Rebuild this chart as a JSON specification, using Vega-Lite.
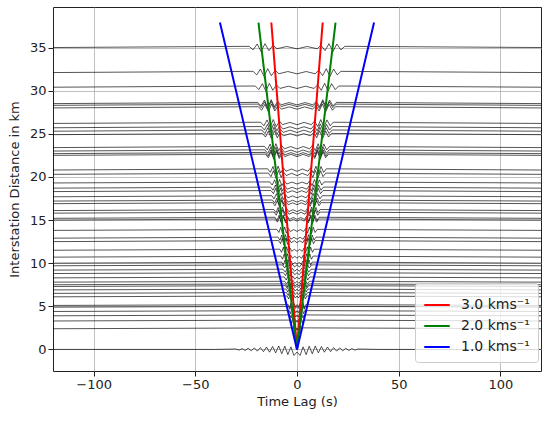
{
"$schema": "https://vega.github.io/schema/vega-lite/v6.json",
"width": 488, "height": 364,
"autosize": {"type": "none"},
"padding": {"left": 53, "top": 7, "right": 9, "bottom": 51},
"config": {
"font": "DejaVu Sans",
"view": {"stroke": "#222", "strokeWidth": 1},
"axis": {"labelFont": "DejaVu Sans", "titleFont": "DejaVu Sans", "labelFontSize": 13, "titleFontSize": 13, "titleFontWeight": "normal", "labelColor": "#222", "titleColor": "#222", "tickColor": "#222", "domain": false, "gridColor": "#b0b0b0", "gridWidth": 0.8, "tickSize": 5, "labelPadding": 2}
},
"datasets": {
"tr": [
{"k":35,"t":-120,"y":35},{"k":35,"t":-23.5,"y":35.14},{"k":35,"t":-21.6,"y":34.73},{"k":35,"t":-19.6,"y":35.41},{"k":35,"t":-17.7,"y":34.55},{"k":35,"t":-15.7,"y":35.45},{"k":35,"t":-13.8,"y":34.64},{"k":35,"t":-11.8,"y":35.27},{"k":35,"t":-9.9,"y":34.86},{"k":35,"t":-5,"y":35.12},{"k":35,"t":0,"y":34.85},{"k":35,"t":5,"y":35.12},{"k":35,"t":9.9,"y":34.86},{"k":35,"t":11.8,"y":35.27},{"k":35,"t":13.8,"y":34.64},{"k":35,"t":15.7,"y":35.45},{"k":35,"t":17.7,"y":34.55},{"k":35,"t":19.6,"y":35.41},{"k":35,"t":21.6,"y":34.73},{"k":35,"t":23.5,"y":35.14},{"k":35,"t":120,"y":35},
{"k":32.1,"t":-120,"y":32.1},{"k":32.1,"t":-21.6,"y":32.24},{"k":32.1,"t":-19.8,"y":31.83},{"k":32.1,"t":-18,"y":32.51},{"k":32.1,"t":-16.2,"y":31.65},{"k":32.1,"t":-14.4,"y":32.55},{"k":32.1,"t":-12.6,"y":31.74},{"k":32.1,"t":-10.7,"y":32.37},{"k":32.1,"t":-8.9,"y":31.96},{"k":32.1,"t":-4.5,"y":32.22},{"k":32.1,"t":0,"y":31.95},{"k":32.1,"t":4.5,"y":32.22},{"k":32.1,"t":8.9,"y":31.96},{"k":32.1,"t":10.7,"y":32.37},{"k":32.1,"t":12.6,"y":31.74},{"k":32.1,"t":14.4,"y":32.55},{"k":32.1,"t":16.2,"y":31.65},{"k":32.1,"t":18,"y":32.51},{"k":32.1,"t":19.8,"y":31.83},{"k":32.1,"t":21.6,"y":32.24},{"k":32.1,"t":120,"y":32.1},
{"k":30.4,"t":-120,"y":30.4},{"k":30.4,"t":-20.5,"y":30.54},{"k":30.4,"t":-18.8,"y":30.13},{"k":30.4,"t":-17,"y":30.81},{"k":30.4,"t":-15.3,"y":29.95},{"k":30.4,"t":-13.6,"y":30.85},{"k":30.4,"t":-11.9,"y":30.04},{"k":30.4,"t":-10.1,"y":30.67},{"k":30.4,"t":-8.4,"y":30.26},{"k":30.4,"t":-4.2,"y":30.52},{"k":30.4,"t":0,"y":30.25},{"k":30.4,"t":4.2,"y":30.52},{"k":30.4,"t":8.4,"y":30.26},{"k":30.4,"t":10.1,"y":30.67},{"k":30.4,"t":11.9,"y":30.04},{"k":30.4,"t":13.6,"y":30.85},{"k":30.4,"t":15.3,"y":29.95},{"k":30.4,"t":17,"y":30.81},{"k":30.4,"t":18.8,"y":30.13},{"k":30.4,"t":20.5,"y":30.54},{"k":30.4,"t":120,"y":30.4},
{"k":28.5,"t":-120,"y":28.5},{"k":28.5,"t":-19.3,"y":28.64},{"k":28.5,"t":-17.7,"y":28.23},{"k":28.5,"t":-16,"y":28.91},{"k":28.5,"t":-14.4,"y":28.05},{"k":28.5,"t":-12.7,"y":28.95},{"k":28.5,"t":-11.1,"y":28.14},{"k":28.5,"t":-9.5,"y":28.77},{"k":28.5,"t":-7.8,"y":28.36},{"k":28.5,"t":-3.9,"y":28.62},{"k":28.5,"t":0,"y":28.35},{"k":28.5,"t":3.9,"y":28.62},{"k":28.5,"t":7.8,"y":28.36},{"k":28.5,"t":9.5,"y":28.77},{"k":28.5,"t":11.1,"y":28.14},{"k":28.5,"t":12.7,"y":28.95},{"k":28.5,"t":14.4,"y":28.05},{"k":28.5,"t":16,"y":28.91},{"k":28.5,"t":17.7,"y":28.23},{"k":28.5,"t":19.3,"y":28.64},{"k":28.5,"t":120,"y":28.5},
{"k":28.3,"t":-120,"y":28.3},{"k":28.3,"t":-19.2,"y":28.44},{"k":28.3,"t":-17.6,"y":28.03},{"k":28.3,"t":-15.9,"y":28.71},{"k":28.3,"t":-14.3,"y":27.85},{"k":28.3,"t":-12.7,"y":28.75},{"k":28.3,"t":-11,"y":27.94},{"k":28.3,"t":-9.4,"y":28.57},{"k":28.3,"t":-7.8,"y":28.16},{"k":28.3,"t":-3.9,"y":28.42},{"k":28.3,"t":0,"y":28.15},{"k":28.3,"t":3.9,"y":28.42},{"k":28.3,"t":7.8,"y":28.16},{"k":28.3,"t":9.4,"y":28.57},{"k":28.3,"t":11,"y":27.94},{"k":28.3,"t":12.7,"y":28.75},{"k":28.3,"t":14.3,"y":27.85},{"k":28.3,"t":15.9,"y":28.71},{"k":28.3,"t":17.6,"y":28.03},{"k":28.3,"t":19.2,"y":28.44},{"k":28.3,"t":120,"y":28.3},
{"k":28,"t":-120,"y":28},{"k":28,"t":-19,"y":28.14},{"k":28,"t":-17.4,"y":27.73},{"k":28,"t":-15.8,"y":28.41},{"k":28,"t":-14.1,"y":27.55},{"k":28,"t":-12.5,"y":28.45},{"k":28,"t":-10.9,"y":27.64},{"k":28,"t":-9.3,"y":28.27},{"k":28,"t":-7.7,"y":27.86},{"k":28,"t":-3.8,"y":28.12},{"k":28,"t":0,"y":27.85},{"k":28,"t":3.8,"y":28.12},{"k":28,"t":7.7,"y":27.86},{"k":28,"t":9.3,"y":28.27},{"k":28,"t":10.9,"y":27.64},{"k":28,"t":12.5,"y":28.45},{"k":28,"t":14.1,"y":27.55},{"k":28,"t":15.8,"y":28.41},{"k":28,"t":17.4,"y":27.73},{"k":28,"t":19,"y":28.14},{"k":28,"t":120,"y":28},
{"k":26.2,"t":-120,"y":26.2},{"k":26.2,"t":-17.8,"y":26.34},{"k":26.2,"t":-16.3,"y":25.93},{"k":26.2,"t":-14.7,"y":26.61},{"k":26.2,"t":-13.2,"y":25.75},{"k":26.2,"t":-11.7,"y":26.65},{"k":26.2,"t":-10.2,"y":25.84},{"k":26.2,"t":-8.6,"y":26.47},{"k":26.2,"t":-7.1,"y":26.06},{"k":26.2,"t":-3.5,"y":26.32},{"k":26.2,"t":0,"y":26.05},{"k":26.2,"t":3.5,"y":26.32},{"k":26.2,"t":7.1,"y":26.06},{"k":26.2,"t":8.6,"y":26.47},{"k":26.2,"t":10.2,"y":25.84},{"k":26.2,"t":11.7,"y":26.65},{"k":26.2,"t":13.2,"y":25.75},{"k":26.2,"t":14.7,"y":26.61},{"k":26.2,"t":16.3,"y":25.93},{"k":26.2,"t":17.8,"y":26.34},{"k":26.2,"t":120,"y":26.2},
{"k":25.7,"t":-120,"y":25.7},{"k":25.7,"t":-17.5,"y":25.84},{"k":25.7,"t":-16,"y":25.43},{"k":25.7,"t":-14.5,"y":26.11},{"k":25.7,"t":-13,"y":25.25},{"k":25.7,"t":-11.5,"y":26.15},{"k":25.7,"t":-9.9,"y":25.34},{"k":25.7,"t":-8.4,"y":25.97},{"k":25.7,"t":-6.9,"y":25.56},{"k":25.7,"t":-3.4,"y":25.82},{"k":25.7,"t":0,"y":25.55},{"k":25.7,"t":3.4,"y":25.82},{"k":25.7,"t":6.9,"y":25.56},{"k":25.7,"t":8.4,"y":25.97},{"k":25.7,"t":9.9,"y":25.34},{"k":25.7,"t":11.5,"y":26.15},{"k":25.7,"t":13,"y":25.25},{"k":25.7,"t":14.5,"y":26.11},{"k":25.7,"t":16,"y":25.43},{"k":25.7,"t":17.5,"y":25.84},{"k":25.7,"t":120,"y":25.7},
{"k":25.3,"t":-120,"y":25.3},{"k":25.3,"t":-17.3,"y":25.44},{"k":25.3,"t":-15.8,"y":25.03},{"k":25.3,"t":-14.3,"y":25.71},{"k":25.3,"t":-12.8,"y":24.85},{"k":25.3,"t":-11.3,"y":25.75},{"k":25.3,"t":-9.8,"y":24.94},{"k":25.3,"t":-8.3,"y":25.57},{"k":25.3,"t":-6.8,"y":25.16},{"k":25.3,"t":-3.4,"y":25.42},{"k":25.3,"t":0,"y":25.15},{"k":25.3,"t":3.4,"y":25.42},{"k":25.3,"t":6.8,"y":25.16},{"k":25.3,"t":8.3,"y":25.57},{"k":25.3,"t":9.8,"y":24.94},{"k":25.3,"t":11.3,"y":25.75},{"k":25.3,"t":12.8,"y":24.85},{"k":25.3,"t":14.3,"y":25.71},{"k":25.3,"t":15.8,"y":25.03},{"k":25.3,"t":17.3,"y":25.44},{"k":25.3,"t":120,"y":25.3},
{"k":24.9,"t":-120,"y":24.9},{"k":24.9,"t":-17,"y":25.04},{"k":24.9,"t":-15.5,"y":24.63},{"k":24.9,"t":-14.1,"y":25.31},{"k":24.9,"t":-12.6,"y":24.45},{"k":24.9,"t":-11.1,"y":25.35},{"k":24.9,"t":-9.7,"y":24.54},{"k":24.9,"t":-8.2,"y":25.17},{"k":24.9,"t":-6.7,"y":24.76},{"k":24.9,"t":-3.3,"y":25.02},{"k":24.9,"t":0,"y":24.75},{"k":24.9,"t":3.3,"y":25.02},{"k":24.9,"t":6.7,"y":24.76},{"k":24.9,"t":8.2,"y":25.17},{"k":24.9,"t":9.7,"y":24.54},{"k":24.9,"t":11.1,"y":25.35},{"k":24.9,"t":12.6,"y":24.45},{"k":24.9,"t":14.1,"y":25.31},{"k":24.9,"t":15.5,"y":24.63},{"k":24.9,"t":17,"y":25.04},{"k":24.9,"t":120,"y":24.9},
{"k":23.4,"t":-120,"y":23.4},{"k":23.4,"t":-16,"y":23.54},{"k":23.4,"t":-14.6,"y":23.13},{"k":23.4,"t":-13.2,"y":23.81},{"k":23.4,"t":-11.8,"y":22.95},{"k":23.4,"t":-10.4,"y":23.85},{"k":23.4,"t":-9,"y":23.04},{"k":23.4,"t":-7.6,"y":23.67},{"k":23.4,"t":-6.2,"y":23.26},{"k":23.4,"t":-3.1,"y":23.52},{"k":23.4,"t":0,"y":23.25},{"k":23.4,"t":3.1,"y":23.52},{"k":23.4,"t":6.2,"y":23.26},{"k":23.4,"t":7.6,"y":23.67},{"k":23.4,"t":9,"y":23.04},{"k":23.4,"t":10.4,"y":23.85},{"k":23.4,"t":11.8,"y":22.95},{"k":23.4,"t":13.2,"y":23.81},{"k":23.4,"t":14.6,"y":23.13},{"k":23.4,"t":16,"y":23.54},{"k":23.4,"t":120,"y":23.4},
{"k":23,"t":-120,"y":23},{"k":23,"t":-15.8,"y":23.14},{"k":23,"t":-14.4,"y":22.73},{"k":23,"t":-13,"y":23.41},{"k":23,"t":-11.7,"y":22.55},{"k":23,"t":-10.3,"y":23.45},{"k":23,"t":-8.9,"y":22.64},{"k":23,"t":-7.5,"y":23.27},{"k":23,"t":-6.1,"y":22.86},{"k":23,"t":-3,"y":23.12},{"k":23,"t":0,"y":22.85},{"k":23,"t":3,"y":23.12},{"k":23,"t":6.1,"y":22.86},{"k":23,"t":7.5,"y":23.27},{"k":23,"t":8.9,"y":22.64},{"k":23,"t":10.3,"y":23.45},{"k":23,"t":11.7,"y":22.55},{"k":23,"t":13,"y":23.41},{"k":23,"t":14.4,"y":22.73},{"k":23,"t":15.8,"y":23.14},{"k":23,"t":120,"y":23},
{"k":22.7,"t":-120,"y":22.7},{"k":22.7,"t":-15.6,"y":22.84},{"k":22.7,"t":-14.2,"y":22.43},{"k":22.7,"t":-12.9,"y":23.11},{"k":22.7,"t":-11.5,"y":22.25},{"k":22.7,"t":-10.1,"y":23.15},{"k":22.7,"t":-8.8,"y":22.34},{"k":22.7,"t":-7.4,"y":22.97},{"k":22.7,"t":-6,"y":22.56},{"k":22.7,"t":-3,"y":22.82},{"k":22.7,"t":0,"y":22.55},{"k":22.7,"t":3,"y":22.82},{"k":22.7,"t":6,"y":22.56},{"k":22.7,"t":7.4,"y":22.97},{"k":22.7,"t":8.8,"y":22.34},{"k":22.7,"t":10.1,"y":23.15},{"k":22.7,"t":11.5,"y":22.25},{"k":22.7,"t":12.9,"y":23.11},{"k":22.7,"t":14.2,"y":22.43},{"k":22.7,"t":15.6,"y":22.84},{"k":22.7,"t":120,"y":22.7},
{"k":22.5,"t":-120,"y":22.5},{"k":22.5,"t":-15.5,"y":22.64},{"k":22.5,"t":-14.1,"y":22.23},{"k":22.5,"t":-12.8,"y":22.91},{"k":22.5,"t":-11.4,"y":22.05},{"k":22.5,"t":-10.1,"y":22.95},{"k":22.5,"t":-8.7,"y":22.14},{"k":22.5,"t":-7.3,"y":22.77},{"k":22.5,"t":-6,"y":22.36},{"k":22.5,"t":-3,"y":22.62},{"k":22.5,"t":0,"y":22.35},{"k":22.5,"t":3,"y":22.62},{"k":22.5,"t":6,"y":22.36},{"k":22.5,"t":7.3,"y":22.77},{"k":22.5,"t":8.7,"y":22.14},{"k":22.5,"t":10.1,"y":22.95},{"k":22.5,"t":11.4,"y":22.05},{"k":22.5,"t":12.8,"y":22.91},{"k":22.5,"t":14.1,"y":22.23},{"k":22.5,"t":15.5,"y":22.64},{"k":22.5,"t":120,"y":22.5},
{"k":20.8,"t":-120,"y":20.8},{"k":20.8,"t":-14.4,"y":20.94},{"k":20.8,"t":-13.1,"y":20.53},{"k":20.8,"t":-11.8,"y":21.21},{"k":20.8,"t":-10.6,"y":20.35},{"k":20.8,"t":-9.3,"y":21.25},{"k":20.8,"t":-8,"y":20.44},{"k":20.8,"t":-6.7,"y":21.07},{"k":20.8,"t":-5.4,"y":20.66},{"k":20.8,"t":-2.7,"y":20.92},{"k":20.8,"t":0,"y":20.65},{"k":20.8,"t":2.7,"y":20.92},{"k":20.8,"t":5.4,"y":20.66},{"k":20.8,"t":6.7,"y":21.07},{"k":20.8,"t":8,"y":20.44},{"k":20.8,"t":9.3,"y":21.25},{"k":20.8,"t":10.6,"y":20.35},{"k":20.8,"t":11.8,"y":21.21},{"k":20.8,"t":13.1,"y":20.53},{"k":20.8,"t":14.4,"y":20.94},{"k":20.8,"t":120,"y":20.8},
{"k":20.3,"t":-120,"y":20.3},{"k":20.3,"t":-14.1,"y":20.44},{"k":20.3,"t":-12.8,"y":20.03},{"k":20.3,"t":-11.6,"y":20.71},{"k":20.3,"t":-10.3,"y":19.85},{"k":20.3,"t":-9.1,"y":20.75},{"k":20.3,"t":-7.8,"y":19.94},{"k":20.3,"t":-6.6,"y":20.57},{"k":20.3,"t":-5.3,"y":20.16},{"k":20.3,"t":-2.6,"y":20.42},{"k":20.3,"t":0,"y":20.15},{"k":20.3,"t":2.6,"y":20.42},{"k":20.3,"t":5.3,"y":20.16},{"k":20.3,"t":6.6,"y":20.57},{"k":20.3,"t":7.8,"y":19.94},{"k":20.3,"t":9.1,"y":20.75},{"k":20.3,"t":10.3,"y":19.85},{"k":20.3,"t":11.6,"y":20.71},{"k":20.3,"t":12.8,"y":20.03},{"k":20.3,"t":14.1,"y":20.44},{"k":20.3,"t":120,"y":20.3},
{"k":19.3,"t":-120,"y":19.3},{"k":19.3,"t":-13.4,"y":19.42},{"k":19.3,"t":-12.2,"y":19.06},{"k":19.3,"t":-11,"y":19.66},{"k":19.3,"t":-9.8,"y":18.9},{"k":19.3,"t":-8.6,"y":19.7},{"k":19.3,"t":-7.4,"y":18.98},{"k":19.3,"t":-6.2,"y":19.54},{"k":19.3,"t":-5,"y":19.18},{"k":19.3,"t":-2.5,"y":19.4},{"k":19.3,"t":0,"y":19.18},{"k":19.3,"t":2.5,"y":19.4},{"k":19.3,"t":5,"y":19.18},{"k":19.3,"t":6.2,"y":19.54},{"k":19.3,"t":7.4,"y":18.98},{"k":19.3,"t":8.6,"y":19.7},{"k":19.3,"t":9.8,"y":18.9},{"k":19.3,"t":11,"y":19.66},{"k":19.3,"t":12.2,"y":19.06},{"k":19.3,"t":13.4,"y":19.42},{"k":19.3,"t":120,"y":19.3},
{"k":18.7,"t":-120,"y":18.7},{"k":18.7,"t":-13,"y":18.82},{"k":18.7,"t":-11.8,"y":18.46},{"k":18.7,"t":-10.6,"y":19.06},{"k":18.7,"t":-9.5,"y":18.3},{"k":18.7,"t":-8.3,"y":19.1},{"k":18.7,"t":-7.1,"y":18.38},{"k":18.7,"t":-5.9,"y":18.94},{"k":18.7,"t":-4.8,"y":18.58},{"k":18.7,"t":-2.4,"y":18.8},{"k":18.7,"t":0,"y":18.58},{"k":18.7,"t":2.4,"y":18.8},{"k":18.7,"t":4.8,"y":18.58},{"k":18.7,"t":5.9,"y":18.94},{"k":18.7,"t":7.1,"y":18.38},{"k":18.7,"t":8.3,"y":19.1},{"k":18.7,"t":9.5,"y":18.3},{"k":18.7,"t":10.6,"y":19.06},{"k":18.7,"t":11.8,"y":18.46},{"k":18.7,"t":13,"y":18.82},{"k":18.7,"t":120,"y":18.7},
{"k":18.3,"t":-120,"y":18.3},{"k":18.3,"t":-12.8,"y":18.42},{"k":18.3,"t":-11.6,"y":18.06},{"k":18.3,"t":-10.5,"y":18.66},{"k":18.3,"t":-9.3,"y":17.9},{"k":18.3,"t":-8.2,"y":18.7},{"k":18.3,"t":-7,"y":17.98},{"k":18.3,"t":-5.8,"y":18.54},{"k":18.3,"t":-4.7,"y":18.18},{"k":18.3,"t":-2.3,"y":18.4},{"k":18.3,"t":0,"y":18.18},{"k":18.3,"t":2.3,"y":18.4},{"k":18.3,"t":4.7,"y":18.18},{"k":18.3,"t":5.8,"y":18.54},{"k":18.3,"t":7,"y":17.98},{"k":18.3,"t":8.2,"y":18.7},{"k":18.3,"t":9.3,"y":17.9},{"k":18.3,"t":10.5,"y":18.66},{"k":18.3,"t":11.6,"y":18.06},{"k":18.3,"t":12.8,"y":18.42},{"k":18.3,"t":120,"y":18.3},
{"k":17.7,"t":-120,"y":17.7},{"k":17.7,"t":-12.4,"y":17.82},{"k":17.7,"t":-11.3,"y":17.46},{"k":17.7,"t":-10.1,"y":18.06},{"k":17.7,"t":-9,"y":17.3},{"k":17.7,"t":-7.9,"y":18.1},{"k":17.7,"t":-6.7,"y":17.38},{"k":17.7,"t":-5.6,"y":17.94},{"k":17.7,"t":-4.5,"y":17.58},{"k":17.7,"t":-2.2,"y":17.8},{"k":17.7,"t":0,"y":17.58},{"k":17.7,"t":2.2,"y":17.8},{"k":17.7,"t":4.5,"y":17.58},{"k":17.7,"t":5.6,"y":17.94},{"k":17.7,"t":6.7,"y":17.38},{"k":17.7,"t":7.9,"y":18.1},{"k":17.7,"t":9,"y":17.3},{"k":17.7,"t":10.1,"y":18.06},{"k":17.7,"t":11.3,"y":17.46},{"k":17.7,"t":12.4,"y":17.82},{"k":17.7,"t":120,"y":17.7},
{"k":17.2,"t":-120,"y":17.2},{"k":17.2,"t":-12.1,"y":17.32},{"k":17.2,"t":-11,"y":16.96},{"k":17.2,"t":-9.9,"y":17.56},{"k":17.2,"t":-8.8,"y":16.8},{"k":17.2,"t":-7.7,"y":17.6},{"k":17.2,"t":-6.6,"y":16.88},{"k":17.2,"t":-5.5,"y":17.44},{"k":17.2,"t":-4.3,"y":17.08},{"k":17.2,"t":-2.2,"y":17.3},{"k":17.2,"t":0,"y":17.08},{"k":17.2,"t":2.2,"y":17.3},{"k":17.2,"t":4.3,"y":17.08},{"k":17.2,"t":5.5,"y":17.44},{"k":17.2,"t":6.6,"y":16.88},{"k":17.2,"t":7.7,"y":17.6},{"k":17.2,"t":8.8,"y":16.8},{"k":17.2,"t":9.9,"y":17.56},{"k":17.2,"t":11,"y":16.96},{"k":17.2,"t":12.1,"y":17.32},{"k":17.2,"t":120,"y":17.2},
{"k":16.9,"t":-120,"y":16.9},{"k":16.9,"t":-11.9,"y":17.02},{"k":16.9,"t":-10.8,"y":16.66},{"k":16.9,"t":-9.7,"y":17.26},{"k":16.9,"t":-8.6,"y":16.5},{"k":16.9,"t":-7.5,"y":17.3},{"k":16.9,"t":-6.5,"y":16.58},{"k":16.9,"t":-5.4,"y":17.14},{"k":16.9,"t":-4.3,"y":16.78},{"k":16.9,"t":-2.1,"y":17},{"k":16.9,"t":0,"y":16.78},{"k":16.9,"t":2.1,"y":17},{"k":16.9,"t":4.3,"y":16.78},{"k":16.9,"t":5.4,"y":17.14},{"k":16.9,"t":6.5,"y":16.58},{"k":16.9,"t":7.5,"y":17.3},{"k":16.9,"t":8.6,"y":16.5},{"k":16.9,"t":9.7,"y":17.26},{"k":16.9,"t":10.8,"y":16.66},{"k":16.9,"t":11.9,"y":17.02},{"k":16.9,"t":120,"y":16.9},
{"k":16.1,"t":-120,"y":16.1},{"k":16.1,"t":-11.4,"y":16.22},{"k":16.1,"t":-10.3,"y":15.86},{"k":16.1,"t":-9.3,"y":16.46},{"k":16.1,"t":-8.2,"y":15.7},{"k":16.1,"t":-7.2,"y":16.5},{"k":16.1,"t":-6.1,"y":15.78},{"k":16.1,"t":-5.1,"y":16.34},{"k":16.1,"t":-4,"y":15.98},{"k":16.1,"t":-2,"y":16.2},{"k":16.1,"t":0,"y":15.98},{"k":16.1,"t":2,"y":16.2},{"k":16.1,"t":4,"y":15.98},{"k":16.1,"t":5.1,"y":16.34},{"k":16.1,"t":6.1,"y":15.78},{"k":16.1,"t":7.2,"y":16.5},{"k":16.1,"t":8.2,"y":15.7},{"k":16.1,"t":9.3,"y":16.46},{"k":16.1,"t":10.3,"y":15.86},{"k":16.1,"t":11.4,"y":16.22},{"k":16.1,"t":120,"y":16.1},
{"k":15.8,"t":-120,"y":15.8},{"k":15.8,"t":-11.2,"y":15.92},{"k":15.8,"t":-10.2,"y":15.56},{"k":15.8,"t":-9.1,"y":16.16},{"k":15.8,"t":-8.1,"y":15.4},{"k":15.8,"t":-7,"y":16.2},{"k":15.8,"t":-6,"y":15.48},{"k":15.8,"t":-5,"y":16.04},{"k":15.8,"t":-3.9,"y":15.68},{"k":15.8,"t":-2,"y":15.9},{"k":15.8,"t":0,"y":15.68},{"k":15.8,"t":2,"y":15.9},{"k":15.8,"t":3.9,"y":15.68},{"k":15.8,"t":5,"y":16.04},{"k":15.8,"t":6,"y":15.48},{"k":15.8,"t":7,"y":16.2},{"k":15.8,"t":8.1,"y":15.4},{"k":15.8,"t":9.1,"y":16.16},{"k":15.8,"t":10.2,"y":15.56},{"k":15.8,"t":11.2,"y":15.92},{"k":15.8,"t":120,"y":15.8},
{"k":15.2,"t":-120,"y":15.2},{"k":15.2,"t":-10.8,"y":15.32},{"k":15.2,"t":-9.8,"y":14.96},{"k":15.2,"t":-8.8,"y":15.56},{"k":15.2,"t":-7.8,"y":14.8},{"k":15.2,"t":-6.8,"y":15.6},{"k":15.2,"t":-5.8,"y":14.88},{"k":15.2,"t":-4.7,"y":15.44},{"k":15.2,"t":-3.7,"y":15.08},{"k":15.2,"t":-1.8,"y":15.3},{"k":15.2,"t":0,"y":15.08},{"k":15.2,"t":1.8,"y":15.3},{"k":15.2,"t":3.7,"y":15.08},{"k":15.2,"t":4.7,"y":15.44},{"k":15.2,"t":5.8,"y":14.88},{"k":15.2,"t":6.8,"y":15.6},{"k":15.2,"t":7.8,"y":14.8},{"k":15.2,"t":8.8,"y":15.56},{"k":15.2,"t":9.8,"y":14.96},{"k":15.2,"t":10.8,"y":15.32},{"k":15.2,"t":120,"y":15.2},
{"k":15,"t":-120,"y":15},{"k":15,"t":-10.6,"y":15.12},{"k":15,"t":-9.6,"y":14.76},{"k":15,"t":-8.6,"y":15.36},{"k":15,"t":-7.6,"y":14.6},{"k":15,"t":-6.6,"y":15.4},{"k":15,"t":-5.6,"y":14.68},{"k":15,"t":-4.6,"y":15.24},{"k":15,"t":-3.6,"y":14.88},{"k":15,"t":-1.8,"y":15.1},{"k":15,"t":0,"y":14.88},{"k":15,"t":1.8,"y":15.1},{"k":15,"t":3.6,"y":14.88},{"k":15,"t":4.6,"y":15.24},{"k":15,"t":5.6,"y":14.68},{"k":15,"t":6.6,"y":15.4},{"k":15,"t":7.6,"y":14.6},{"k":15,"t":8.6,"y":15.36},{"k":15,"t":9.6,"y":14.76},{"k":15,"t":10.6,"y":15.12},{"k":15,"t":120,"y":15},
{"k":13.8,"t":-120,"y":13.8},{"k":13.8,"t":-9.9,"y":13.92},{"k":13.8,"t":-8.9,"y":13.56},{"k":13.8,"t":-8,"y":14.16},{"k":13.8,"t":-7.1,"y":13.4},{"k":13.8,"t":-6.1,"y":14.2},{"k":13.8,"t":-5.2,"y":13.48},{"k":13.8,"t":-4.3,"y":14.04},{"k":13.8,"t":-3.3,"y":13.68},{"k":13.8,"t":-1.6,"y":13.9},{"k":13.8,"t":0,"y":13.68},{"k":13.8,"t":1.6,"y":13.9},{"k":13.8,"t":3.3,"y":13.68},{"k":13.8,"t":4.3,"y":14.04},{"k":13.8,"t":5.2,"y":13.48},{"k":13.8,"t":6.1,"y":14.2},{"k":13.8,"t":7.1,"y":13.4},{"k":13.8,"t":8,"y":14.16},{"k":13.8,"t":8.9,"y":13.56},{"k":13.8,"t":9.9,"y":13.92},{"k":13.8,"t":120,"y":13.8},
{"k":12.9,"t":-120,"y":12.9},{"k":12.9,"t":-9.3,"y":13.02},{"k":12.9,"t":-8.4,"y":12.66},{"k":12.9,"t":-7.5,"y":13.26},{"k":12.9,"t":-6.6,"y":12.5},{"k":12.9,"t":-5.7,"y":13.3},{"k":12.9,"t":-4.8,"y":12.58},{"k":12.9,"t":-3.9,"y":13.14},{"k":12.9,"t":-3,"y":12.78},{"k":12.9,"t":-1.5,"y":13},{"k":12.9,"t":0,"y":12.78},{"k":12.9,"t":1.5,"y":13},{"k":12.9,"t":3,"y":12.78},{"k":12.9,"t":3.9,"y":13.14},{"k":12.9,"t":4.8,"y":12.58},{"k":12.9,"t":5.7,"y":13.3},{"k":12.9,"t":6.6,"y":12.5},{"k":12.9,"t":7.5,"y":13.26},{"k":12.9,"t":8.4,"y":12.66},{"k":12.9,"t":9.3,"y":13.02},{"k":12.9,"t":120,"y":12.9},
{"k":12.5,"t":-120,"y":12.5},{"k":12.5,"t":-9,"y":12.62},{"k":12.5,"t":-8.1,"y":12.26},{"k":12.5,"t":-7.3,"y":12.86},{"k":12.5,"t":-6.4,"y":12.1},{"k":12.5,"t":-5.5,"y":12.9},{"k":12.5,"t":-4.6,"y":12.18},{"k":12.5,"t":-3.7,"y":12.74},{"k":12.5,"t":-2.9,"y":12.38},{"k":12.5,"t":-1.4,"y":12.6},{"k":12.5,"t":0,"y":12.38},{"k":12.5,"t":1.4,"y":12.6},{"k":12.5,"t":2.9,"y":12.38},{"k":12.5,"t":3.7,"y":12.74},{"k":12.5,"t":4.6,"y":12.18},{"k":12.5,"t":5.5,"y":12.9},{"k":12.5,"t":6.4,"y":12.1},{"k":12.5,"t":7.3,"y":12.86},{"k":12.5,"t":8.1,"y":12.26},{"k":12.5,"t":9,"y":12.62},{"k":12.5,"t":120,"y":12.5},
{"k":11.5,"t":-120,"y":11.5},{"k":11.5,"t":-8.4,"y":11.62},{"k":11.5,"t":-7.6,"y":11.26},{"k":11.5,"t":-6.7,"y":11.86},{"k":11.5,"t":-5.9,"y":11.1},{"k":11.5,"t":-5.1,"y":11.9},{"k":11.5,"t":-4.2,"y":11.18},{"k":11.5,"t":-3.4,"y":11.74},{"k":11.5,"t":-2.6,"y":11.38},{"k":11.5,"t":-1.3,"y":11.6},{"k":11.5,"t":0,"y":11.38},{"k":11.5,"t":1.3,"y":11.6},{"k":11.5,"t":2.6,"y":11.38},{"k":11.5,"t":3.4,"y":11.74},{"k":11.5,"t":4.2,"y":11.18},{"k":11.5,"t":5.1,"y":11.9},{"k":11.5,"t":5.9,"y":11.1},{"k":11.5,"t":6.7,"y":11.86},{"k":11.5,"t":7.6,"y":11.26},{"k":11.5,"t":8.4,"y":11.62},{"k":11.5,"t":120,"y":11.5},
{"k":10.7,"t":-120,"y":10.7},{"k":10.7,"t":-7.9,"y":10.82},{"k":10.7,"t":-7.1,"y":10.46},{"k":10.7,"t":-6.3,"y":11.06},{"k":10.7,"t":-5.5,"y":10.3},{"k":10.7,"t":-4.7,"y":11.1},{"k":10.7,"t":-3.9,"y":10.38},{"k":10.7,"t":-3.1,"y":10.94},{"k":10.7,"t":-2.3,"y":10.58},{"k":10.7,"t":-1.1,"y":10.8},{"k":10.7,"t":0,"y":10.58},{"k":10.7,"t":1.1,"y":10.8},{"k":10.7,"t":2.3,"y":10.58},{"k":10.7,"t":3.1,"y":10.94},{"k":10.7,"t":3.9,"y":10.38},{"k":10.7,"t":4.7,"y":11.1},{"k":10.7,"t":5.5,"y":10.3},{"k":10.7,"t":6.3,"y":11.06},{"k":10.7,"t":7.1,"y":10.46},{"k":10.7,"t":7.9,"y":10.82},{"k":10.7,"t":120,"y":10.7},
{"k":10,"t":-120,"y":10},{"k":10,"t":-7.4,"y":10.12},{"k":10,"t":-6.7,"y":9.76},{"k":10,"t":-5.9,"y":10.36},{"k":10,"t":-5.1,"y":9.6},{"k":10,"t":-4.4,"y":10.4},{"k":10,"t":-3.6,"y":9.68},{"k":10,"t":-2.9,"y":10.24},{"k":10,"t":-2.1,"y":9.88},{"k":10,"t":-1,"y":10.1},{"k":10,"t":0,"y":9.88},{"k":10,"t":1,"y":10.1},{"k":10,"t":2.1,"y":9.88},{"k":10,"t":2.9,"y":10.24},{"k":10,"t":3.6,"y":9.68},{"k":10,"t":4.4,"y":10.4},{"k":10,"t":5.1,"y":9.6},{"k":10,"t":5.9,"y":10.36},{"k":10,"t":6.7,"y":9.76},{"k":10,"t":7.4,"y":10.12},{"k":10,"t":120,"y":10},
{"k":9.7,"t":-120,"y":9.7},{"k":9.7,"t":-7.2,"y":9.8},{"k":9.7,"t":-6,"y":9.45},{"k":9.7,"t":-4.8,"y":10.05},{"k":9.7,"t":-3.6,"y":9.38},{"k":9.7,"t":-2.4,"y":9.91},{"k":9.7,"t":-1.2,"y":9.56},{"k":9.7,"t":0,"y":9.8},{"k":9.7,"t":1.2,"y":9.56},{"k":9.7,"t":2.4,"y":9.91},{"k":9.7,"t":3.6,"y":9.38},{"k":9.7,"t":4.8,"y":10.05},{"k":9.7,"t":6,"y":9.45},{"k":9.7,"t":7.2,"y":9.8},{"k":9.7,"t":120,"y":9.7},
{"k":9.2,"t":-120,"y":9.2},{"k":9.2,"t":-6.9,"y":9.3},{"k":9.2,"t":-5.7,"y":8.95},{"k":9.2,"t":-4.6,"y":9.55},{"k":9.2,"t":-3.5,"y":8.88},{"k":9.2,"t":-2.3,"y":9.41},{"k":9.2,"t":-1.2,"y":9.06},{"k":9.2,"t":0,"y":9.3},{"k":9.2,"t":1.2,"y":9.06},{"k":9.2,"t":2.3,"y":9.41},{"k":9.2,"t":3.5,"y":8.88},{"k":9.2,"t":4.6,"y":9.55},{"k":9.2,"t":5.7,"y":8.95},{"k":9.2,"t":6.9,"y":9.3},{"k":9.2,"t":120,"y":9.2},
{"k":8.8,"t":-120,"y":8.8},{"k":8.8,"t":-6.7,"y":8.9},{"k":8.8,"t":-5.6,"y":8.55},{"k":8.8,"t":-4.5,"y":9.15},{"k":8.8,"t":-3.4,"y":8.48},{"k":8.8,"t":-2.2,"y":9.01},{"k":8.8,"t":-1.1,"y":8.66},{"k":8.8,"t":0,"y":8.9},{"k":8.8,"t":1.1,"y":8.66},{"k":8.8,"t":2.2,"y":9.01},{"k":8.8,"t":3.4,"y":8.48},{"k":8.8,"t":4.5,"y":9.15},{"k":8.8,"t":5.6,"y":8.55},{"k":8.8,"t":6.7,"y":8.9},{"k":8.8,"t":120,"y":8.8},
{"k":8.3,"t":-120,"y":8.3},{"k":8.3,"t":-6.3,"y":8.4},{"k":8.3,"t":-5.3,"y":8.05},{"k":8.3,"t":-4.2,"y":8.65},{"k":8.3,"t":-3.2,"y":7.98},{"k":8.3,"t":-2.1,"y":8.51},{"k":8.3,"t":-1.1,"y":8.16},{"k":8.3,"t":0,"y":8.4},{"k":8.3,"t":1.1,"y":8.16},{"k":8.3,"t":2.1,"y":8.51},{"k":8.3,"t":3.2,"y":7.98},{"k":8.3,"t":4.2,"y":8.65},{"k":8.3,"t":5.3,"y":8.05},{"k":8.3,"t":6.3,"y":8.4},{"k":8.3,"t":120,"y":8.3},
{"k":7.8,"t":-120,"y":7.8},{"k":7.8,"t":-6,"y":7.9},{"k":7.8,"t":-5,"y":7.55},{"k":7.8,"t":-4,"y":8.15},{"k":7.8,"t":-3,"y":7.48},{"k":7.8,"t":-2,"y":8.01},{"k":7.8,"t":-1,"y":7.66},{"k":7.8,"t":0,"y":7.9},{"k":7.8,"t":1,"y":7.66},{"k":7.8,"t":2,"y":8.01},{"k":7.8,"t":3,"y":7.48},{"k":7.8,"t":4,"y":8.15},{"k":7.8,"t":5,"y":7.55},{"k":7.8,"t":6,"y":7.9},{"k":7.8,"t":120,"y":7.8},
{"k":7.5,"t":-120,"y":7.5},{"k":7.5,"t":-5.8,"y":7.6},{"k":7.5,"t":-4.8,"y":7.25},{"k":7.5,"t":-3.9,"y":7.85},{"k":7.5,"t":-2.9,"y":7.18},{"k":7.5,"t":-1.9,"y":7.71},{"k":7.5,"t":-1,"y":7.36},{"k":7.5,"t":0,"y":7.6},{"k":7.5,"t":1,"y":7.36},{"k":7.5,"t":1.9,"y":7.71},{"k":7.5,"t":2.9,"y":7.18},{"k":7.5,"t":3.9,"y":7.85},{"k":7.5,"t":4.8,"y":7.25},{"k":7.5,"t":5.8,"y":7.6},{"k":7.5,"t":120,"y":7.5},
{"k":7.3,"t":-120,"y":7.3},{"k":7.3,"t":-5.7,"y":7.4},{"k":7.3,"t":-4.7,"y":7.05},{"k":7.3,"t":-3.8,"y":7.65},{"k":7.3,"t":-2.9,"y":6.98},{"k":7.3,"t":-1.9,"y":7.51},{"k":7.3,"t":-1,"y":7.16},{"k":7.3,"t":0,"y":7.4},{"k":7.3,"t":1,"y":7.16},{"k":7.3,"t":1.9,"y":7.51},{"k":7.3,"t":2.9,"y":6.98},{"k":7.3,"t":3.8,"y":7.65},{"k":7.3,"t":4.7,"y":7.05},{"k":7.3,"t":5.7,"y":7.4},{"k":7.3,"t":120,"y":7.3},
{"k":6.9,"t":-120,"y":6.9},{"k":6.9,"t":-5.4,"y":7},{"k":6.9,"t":-4.5,"y":6.65},{"k":6.9,"t":-3.6,"y":7.25},{"k":6.9,"t":-2.7,"y":6.58},{"k":6.9,"t":-1.8,"y":7.11},{"k":6.9,"t":-0.9,"y":6.76},{"k":6.9,"t":0,"y":7},{"k":6.9,"t":0.9,"y":6.76},{"k":6.9,"t":1.8,"y":7.11},{"k":6.9,"t":2.7,"y":6.58},{"k":6.9,"t":3.6,"y":7.25},{"k":6.9,"t":4.5,"y":6.65},{"k":6.9,"t":5.4,"y":7},{"k":6.9,"t":120,"y":6.9},
{"k":6.5,"t":-120,"y":6.5},{"k":6.5,"t":-5.2,"y":6.6},{"k":6.5,"t":-4.3,"y":6.25},{"k":6.5,"t":-3.5,"y":6.85},{"k":6.5,"t":-2.6,"y":6.18},{"k":6.5,"t":-1.7,"y":6.71},{"k":6.5,"t":-0.9,"y":6.36},{"k":6.5,"t":0,"y":6.6},{"k":6.5,"t":0.9,"y":6.36},{"k":6.5,"t":1.7,"y":6.71},{"k":6.5,"t":2.6,"y":6.18},{"k":6.5,"t":3.5,"y":6.85},{"k":6.5,"t":4.3,"y":6.25},{"k":6.5,"t":5.2,"y":6.6},{"k":6.5,"t":120,"y":6.5},
{"k":6.1,"t":-120,"y":6.1},{"k":6.1,"t":-4.9,"y":6.2},{"k":6.1,"t":-4.1,"y":5.85},{"k":6.1,"t":-3.3,"y":6.45},{"k":6.1,"t":-2.5,"y":5.78},{"k":6.1,"t":-1.6,"y":6.31},{"k":6.1,"t":-0.8,"y":5.96},{"k":6.1,"t":0,"y":6.2},{"k":6.1,"t":0.8,"y":5.96},{"k":6.1,"t":1.6,"y":6.31},{"k":6.1,"t":2.5,"y":5.78},{"k":6.1,"t":3.3,"y":6.45},{"k":6.1,"t":4.1,"y":5.85},{"k":6.1,"t":4.9,"y":6.2},{"k":6.1,"t":120,"y":6.1},
{"k":5.1,"t":-120,"y":5.1},{"k":5.1,"t":-4.3,"y":5.2},{"k":5.1,"t":-3.6,"y":4.85},{"k":5.1,"t":-2.9,"y":5.45},{"k":5.1,"t":-2.2,"y":4.78},{"k":5.1,"t":-1.4,"y":5.31},{"k":5.1,"t":-0.7,"y":4.96},{"k":5.1,"t":0,"y":5.2},{"k":5.1,"t":0.7,"y":4.96},{"k":5.1,"t":1.4,"y":5.31},{"k":5.1,"t":2.2,"y":4.78},{"k":5.1,"t":2.9,"y":5.45},{"k":5.1,"t":3.6,"y":4.85},{"k":5.1,"t":4.3,"y":5.2},{"k":5.1,"t":120,"y":5.1},
{"k":4.9,"t":-120,"y":4.9},{"k":4.9,"t":-4.2,"y":5},{"k":4.9,"t":-3.5,"y":4.65},{"k":4.9,"t":-2.8,"y":5.25},{"k":4.9,"t":-2.1,"y":4.58},{"k":4.9,"t":-1.4,"y":5.11},{"k":4.9,"t":-0.7,"y":4.76},{"k":4.9,"t":0,"y":5},{"k":4.9,"t":0.7,"y":4.76},{"k":4.9,"t":1.4,"y":5.11},{"k":4.9,"t":2.1,"y":4.58},{"k":4.9,"t":2.8,"y":5.25},{"k":4.9,"t":3.5,"y":4.65},{"k":4.9,"t":4.2,"y":5},{"k":4.9,"t":120,"y":4.9},
{"k":4.4,"t":-120,"y":4.4},{"k":4.4,"t":-3.8,"y":4.5},{"k":4.4,"t":-3.2,"y":4.15},{"k":4.4,"t":-2.5,"y":4.75},{"k":4.4,"t":-1.9,"y":4.08},{"k":4.4,"t":-1.3,"y":4.61},{"k":4.4,"t":-0.6,"y":4.26},{"k":4.4,"t":0,"y":4.5},{"k":4.4,"t":0.6,"y":4.26},{"k":4.4,"t":1.3,"y":4.61},{"k":4.4,"t":1.9,"y":4.08},{"k":4.4,"t":2.5,"y":4.75},{"k":4.4,"t":3.2,"y":4.15},{"k":4.4,"t":3.8,"y":4.5},{"k":4.4,"t":120,"y":4.4},
{"k":3.9,"t":-120,"y":3.9},{"k":3.9,"t":-3.5,"y":4},{"k":3.9,"t":-2.9,"y":3.65},{"k":3.9,"t":-2.3,"y":4.25},{"k":3.9,"t":-1.8,"y":3.58},{"k":3.9,"t":-1.2,"y":4.11},{"k":3.9,"t":-0.6,"y":3.76},{"k":3.9,"t":0,"y":4},{"k":3.9,"t":0.6,"y":3.76},{"k":3.9,"t":1.2,"y":4.11},{"k":3.9,"t":1.8,"y":3.58},{"k":3.9,"t":2.3,"y":4.25},{"k":3.9,"t":2.9,"y":3.65},{"k":3.9,"t":3.5,"y":4},{"k":3.9,"t":120,"y":3.9},
{"k":3.3,"t":-120,"y":3.3},{"k":3.3,"t":-3.1,"y":3.4},{"k":3.3,"t":-2.6,"y":3.05},{"k":3.3,"t":-2.1,"y":3.65},{"k":3.3,"t":-1.6,"y":2.98},{"k":3.3,"t":-1,"y":3.51},{"k":3.3,"t":-0.5,"y":3.16},{"k":3.3,"t":0,"y":3.4},{"k":3.3,"t":0.5,"y":3.16},{"k":3.3,"t":1,"y":3.51},{"k":3.3,"t":1.6,"y":2.98},{"k":3.3,"t":2.1,"y":3.65},{"k":3.3,"t":2.6,"y":3.05},{"k":3.3,"t":3.1,"y":3.4},{"k":3.3,"t":120,"y":3.3},
{"k":2.4,"t":-120,"y":2.4},{"k":2.4,"t":-2.5,"y":2.5},{"k":2.4,"t":-2.1,"y":2.15},{"k":2.4,"t":-1.7,"y":2.75},{"k":2.4,"t":-1.3,"y":2.08},{"k":2.4,"t":-0.8,"y":2.61},{"k":2.4,"t":-0.4,"y":2.26},{"k":2.4,"t":0,"y":2.5},{"k":2.4,"t":0.4,"y":2.26},{"k":2.4,"t":0.8,"y":2.61},{"k":2.4,"t":1.3,"y":2.08},{"k":2.4,"t":1.7,"y":2.75},{"k":2.4,"t":2.1,"y":2.15},{"k":2.4,"t":2.5,"y":2.5},{"k":2.4,"t":120,"y":2.4},
{"k":0,"t":-120,"y":0},{"k":0,"t":-40,"y":0},{"k":0,"t":-30,"y":0.05},{"k":0,"t":-28.5,"y":-0.08},{"k":0,"t":-27,"y":0.1},{"k":0,"t":-25.5,"y":-0.12},{"k":0,"t":-24,"y":0.14},{"k":0,"t":-22.5,"y":-0.16},{"k":0,"t":-21,"y":0.18},{"k":0,"t":-19.5,"y":-0.2},{"k":0,"t":-18,"y":0.22},{"k":0,"t":-16.5,"y":-0.26},{"k":0,"t":-15,"y":0.28},{"k":0,"t":-13.5,"y":-0.32},{"k":0,"t":-12,"y":0.34},{"k":0,"t":-10.5,"y":-0.4},{"k":0,"t":-9,"y":0.4},{"k":0,"t":-7.5,"y":-0.5},{"k":0,"t":-6,"y":0.38},{"k":0,"t":-4.5,"y":-0.6},{"k":0,"t":-3,"y":0.3},{"k":0,"t":-1.5,"y":-0.7},{"k":0,"t":0,"y":-0.3},{"k":0,"t":1.5,"y":-0.7},{"k":0,"t":3,"y":0.3},{"k":0,"t":4.5,"y":-0.6},{"k":0,"t":6,"y":0.38},{"k":0,"t":7.5,"y":-0.5},{"k":0,"t":9,"y":0.4},{"k":0,"t":10.5,"y":-0.4},{"k":0,"t":12,"y":0.34},{"k":0,"t":13.5,"y":-0.32},{"k":0,"t":15,"y":0.28},{"k":0,"t":16.5,"y":-0.26},{"k":0,"t":18,"y":0.22},{"k":0,"t":19.5,"y":-0.2},{"k":0,"t":21,"y":0.18},{"k":0,"t":22.5,"y":-0.16},{"k":0,"t":24,"y":0.14},{"k":0,"t":25.5,"y":-0.12},{"k":0,"t":27,"y":0.1},{"k":0,"t":28.5,"y":-0.08},{"k":0,"t":30,"y":0.05},{"k":0,"t":40,"y":0},{"k":0,"t":120,"y":0}
],
"vel": [
{"v":"3.0 kms⁻¹","t":-12.63,"y":37.9},{"v":"3.0 kms⁻¹","t":0,"y":0},{"v":"3.0 kms⁻¹","t":12.63,"y":37.9},
{"v":"2.0 kms⁻¹","t":-18.95,"y":37.9},{"v":"2.0 kms⁻¹","t":0,"y":0},{"v":"2.0 kms⁻¹","t":18.95,"y":37.9},
{"v":"1.0 kms⁻¹","t":-37.9,"y":37.9},{"v":"1.0 kms⁻¹","t":0,"y":0},{"v":"1.0 kms⁻¹","t":37.9,"y":37.9}
]
},
"layer": [
{
"data": {"name": "tr"},
"mark": {"type": "line", "color": "black", "strokeWidth": 0.9, "opacity": 0.75},
"encoding": {
"x": {"field": "t", "type": "quantitative", "scale": {"domain": [-120, 120], "nice": false, "zero": false}, "axis": {"values": [-100, -50, 0, 50, 100], "title": "Time Lag (s)", "grid": true, "titlePadding": 4}},
"y": {"field": "y", "type": "quantitative", "scale": {"domain": [-2.5, 39.7], "nice": false, "zero": false}, "axis": {"values": [0, 5, 10, 15, 20, 25, 30, 35], "title": "Interstation Distance in km", "grid": true, "titlePadding": 8}},
"detail": {"field": "k", "type": "nominal"}
}
},
{
"data": {"name": "vel"},
"mark": {"type": "line", "strokeWidth": 2},
"encoding": {
"x": {"field": "t", "type": "quantitative"},
"y": {"field": "y", "type": "quantitative"},
"color": {"field": "v", "type": "nominal",
"scale": {"domain": ["3.0 kms⁻¹", "2.0 kms⁻¹", "1.0 kms⁻¹"], "range": ["#ff0000", "#008000", "#0000ff"]},
"legend": {"orient": "none", "legendX": 362, "legendY": 276, "title": null, "symbolType": "stroke", "symbolSize": 650, "symbolStrokeWidth": 2, "labelFontSize": 14, "labelFont": "DejaVu Sans", "labelColor": "#222", "fillColor": "rgba(255,255,255,0.8)", "strokeColor": "#cccccc", "padding": 8, "cornerRadius": 3, "rowPadding": 0, "labelOffset": 10}}
}
}
]
}
